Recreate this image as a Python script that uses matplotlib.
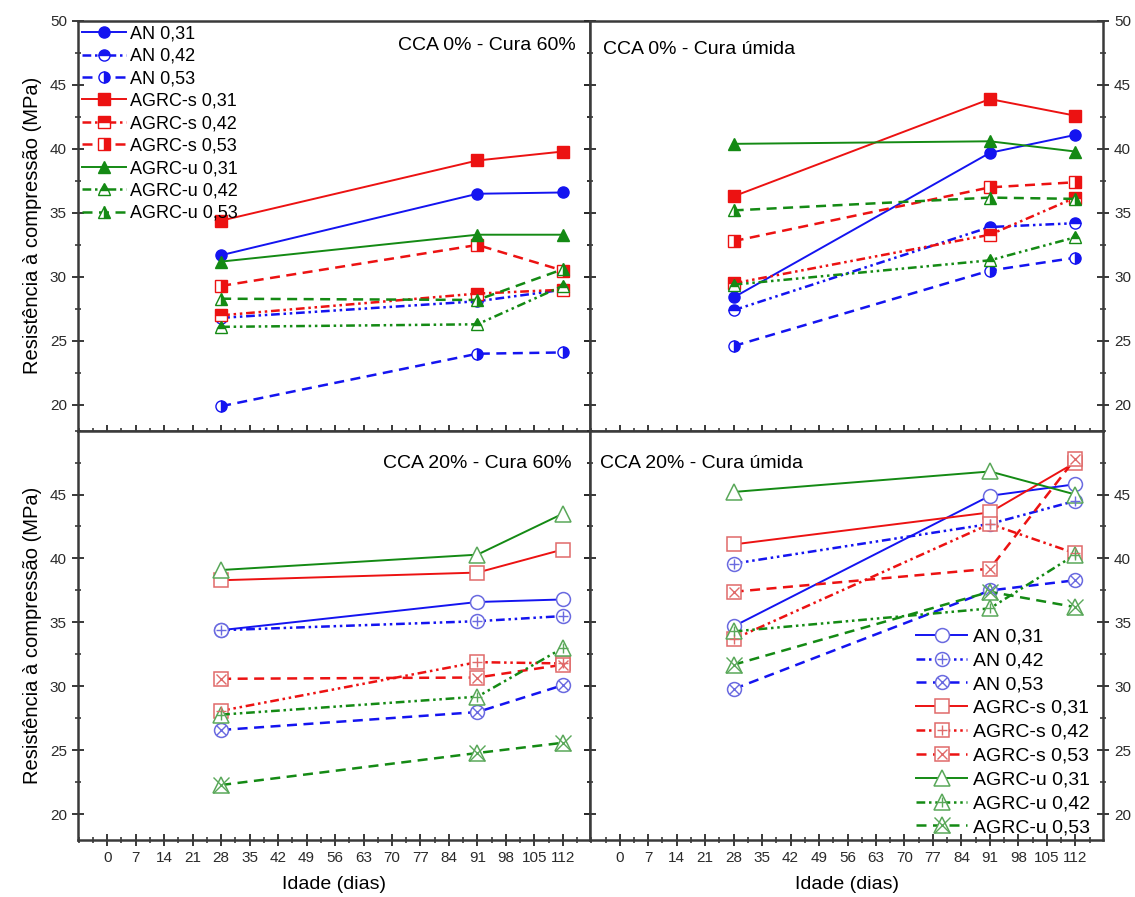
import matplotlib
matplotlib.use("Agg")
import matplotlib.pyplot as plt
from matplotlib.ticker import MultipleLocator

plt.rcParams["font.family"] = ["Liberation Sans", "DejaVu Sans"]

# Ages (days) at which the specimens were tested
ages = [28, 91, 112]

series_labels = [
    "AN 0,31", "AN 0,42", "AN 0,53",
    "AGRC-s 0,31", "AGRC-s 0,42", "AGRC-s 0,53",
    "AGRC-u 0,31", "AGRC-u 0,42", "AGRC-u 0,53",
]

# Compressive strength (MPa), one row per series, in the order above
cca0_cura60 = [
    [31.7, 36.5, 36.6],
    [26.8, 28.1, 29.0],
    [19.9, 24.0, 24.1],
    [34.4, 39.1, 39.8],
    [27.0, 28.7, 29.0],
    [29.3, 32.5, 30.5],
    [31.2, 33.3, 33.3],
    [26.1, 26.3, 29.3],
    [28.3, 28.2, 30.6],
]

cca0_umida = [
    [28.4, 39.7, 41.1],
    [27.4, 33.9, 34.2],
    [24.6, 30.5, 31.5],
    [36.3, 43.9, 42.6],
    [29.5, 33.3, 36.2],
    [32.8, 37.0, 37.4],
    [40.4, 40.6, 39.8],
    [29.4, 31.3, 33.1],
    [35.2, 36.2, 36.1],
]

cca20_cura60 = [
    [34.4, 36.6, 36.8],
    [34.4, 35.1, 35.5],
    [26.6, 28.0, 30.1],
    [38.3, 38.9, 40.7],
    [28.1, 31.9, 31.8],
    [30.6, 30.7, 31.7],
    [39.1, 40.3, 43.5],
    [27.8, 29.2, 33.0],
    [22.3, 24.8, 25.6],
]

cca20_umida = [
    [34.7, 44.9, 45.8],
    [39.6, 42.7, 44.5],
    [29.8, 37.5, 38.3],
    [41.1, 43.6, 47.5],
    [33.7, 42.7, 40.4],
    [37.4, 39.2, 47.8],
    [45.2, 46.8, 45.0],
    [34.3, 36.1, 40.3],
    [31.7, 37.4, 36.2],
]

panel_titles = [
    "CCA 0% - Cura 60%", "CCA 0% - Cura úmida",
    "CCA 20% - Cura 60%", "CCA 20% - Cura úmida",
]

x_ticks = list(range(0, 113, 7))

colors = ["#1414f0", "#ec1212", "#148a14"]
light_colors = ["#6a6ae0", "#e06a6a", "#5aa85a"]
markers = ["o", "s", "^"]
line_styles = ["-", (0, (3.5, 1.5, 1, 1.5, 1, 1.5)), (0, (4, 2.6))]
fill_styles = ["full", "top", "right"]
overlays = [None, "+", "x"]


def draw_filled(ax, values):
    handles = []
    for i, ys in enumerate(values):
        group, ratio = divmod(i, 3)
        (line,) = ax.plot(
            ages, ys,
            color=colors[group], linestyle=line_styles[ratio],
            lw=1.4 if ratio == 0 else 1.8,
            marker=markers[group], markersize=9 if group == 2 else 8,
            fillstyle=fill_styles[ratio], markerfacecoloralt="white",
            markeredgecolor=colors[group], markeredgewidth=1.0,
            label=series_labels[i], zorder=3,
        )
        handles.append(line)
    return handles


def draw_hollow(ax, values):
    handles = []
    for i, ys in enumerate(values):
        group, ratio = divmod(i, 3)
        (line,) = ax.plot(
            ages, ys,
            color=colors[group], linestyle=line_styles[ratio],
            lw=1.4 if ratio == 0 else 1.8,
            marker=markers[group], markersize=11 if group == 2 else 10,
            markerfacecolor="white", markeredgecolor=light_colors[group],
            markeredgewidth=1.1, zorder=3,
        )
        parts = [line]
        if overlays[ratio] is not None:
            (mark,) = ax.plot(
                ages, ys, linestyle="none",
                marker=overlays[ratio],
                markersize=(12 if group == 2 and ratio == 2 else 7),
                markeredgecolor=light_colors[group], markeredgewidth=1.0,
                zorder=4,
            )
            parts.append(mark)
        handles.append(tuple(parts))
    return handles


fig = plt.figure(figsize=(11.35, 8.97), dpi=100)
gs = fig.add_gridspec(2, 2, left=0.0687, right=0.9718, top=0.9766,
                      bottom=0.0635, hspace=0, wspace=0)
axes = [fig.add_subplot(gs[r, c]) for r in range(2) for c in range(2)]

top_left_handles = draw_filled(axes[0], cca0_cura60)
draw_filled(axes[1], cca0_umida)
draw_hollow(axes[2], cca20_cura60)
bottom_right_handles = draw_hollow(axes[3], cca20_umida)

for k, ax in enumerate(axes):
    ax.set_xlim(-7.2, 118.8)
    ax.set_ylim(18, 50)
    ax.set_xticks(x_ticks)
    ax.xaxis.set_minor_locator(MultipleLocator(3.5))
    ax.yaxis.set_minor_locator(MultipleLocator(2.5))
    if k < 2:
        ax.set_yticks([20, 25, 30, 35, 40, 45, 50])
    else:
        ax.set_yticks([20, 25, 30, 35, 40, 45])
    for side in ax.spines.values():
        side.set_linewidth(1.8)
        side.set_color("#3a3a3a")
    ax.tick_params(which="both", direction="inout", colors="#2a2a2a",
                   labelsize=11, top=False, left=True, right=True,
                   bottom=True)
    ax.tick_params(which="major", length=9, width=1.3)
    ax.tick_params(which="minor", length=5, width=1.1)
    ax.tick_params(axis="x", labelbottom=(k >= 2))
    if k % 2 == 0:
        ax.tick_params(axis="y", labelleft=True, labelright=False)
        ax.set_ylabel("Resistência à compressão (MPa)", fontsize=14.5,
                      labelpad=6)
    else:
        ax.tick_params(axis="y", labelleft=False, labelright=True)
    if k >= 2:
        ax.set_xlabel("Idade (dias)", fontsize=14, labelpad=8)

axes[0].text(0.972, 0.94, panel_titles[0], transform=axes[0].transAxes,
             ha="right", va="center", fontsize=14)
axes[1].text(0.025, 0.93, panel_titles[1], transform=axes[1].transAxes,
             ha="left", va="center", fontsize=14)
axes[2].text(0.963, 0.92, panel_titles[2], transform=axes[2].transAxes,
             ha="right", va="center", fontsize=14)
axes[3].text(0.018, 0.92, panel_titles[3], transform=axes[3].transAxes,
             ha="left", va="center", fontsize=14)

axes[0].legend(top_left_handles, series_labels, loc="upper left",
               frameon=False, fontsize=13, handlelength=2.4,
               handletextpad=0.25, labelspacing=0.3, borderaxespad=0.1,
               borderpad=0.15)
axes[3].legend(bottom_right_handles, series_labels, loc="lower right",
               bbox_to_anchor=(0.982, 0.0), frameon=False, fontsize=14,
               handlelength=2.6, handletextpad=0.3, labelspacing=0.32,
               borderaxespad=0.0, borderpad=0.2)

fig.savefig("out.png", dpi=100)
